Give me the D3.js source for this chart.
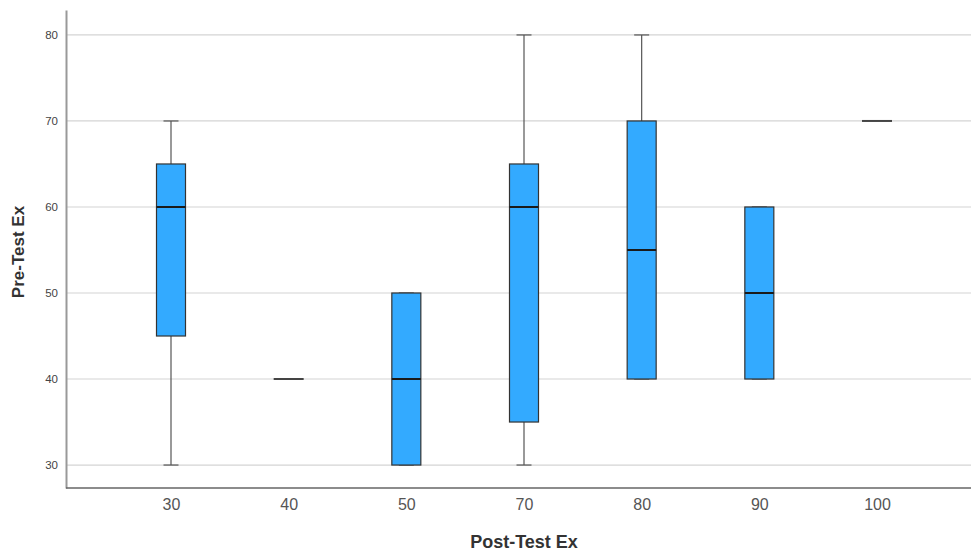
<!DOCTYPE html>
<html>
<head>
<meta charset="utf-8">
<script src="https://cdn.jsdelivr.net/npm/d3@7"></script>
<style>
  body { margin: 0; background: #fff; }
  svg { font-family: "Liberation Sans", Arial, sans-serif; }
</style>
</head>
<body>
<svg id="chart" width="971" height="552"></svg>
<script>
// categories on the x axis (Post-Test Ex)
var categories = ["30", "40", "50", "70", "80", "90", "100"];
// five-number summaries per category (Pre-Test Ex)
var mins    = [30, 40, 30, 30, 40, 40, 70];
var q1s     = [45, 40, 30, 35, 40, 40, 70];
var medians = [60, 40, 40, 60, 55, 50, 70];
var q3s     = [65, 40, 50, 65, 70, 60, 70];
var maxs    = [70, 40, 50, 80, 80, 60, 70];
var yTicks = [30, 40, 50, 60, 70, 80];

var margin = {top: 10, right: 0, bottom: 64, left: 66};
var width = 971 - margin.left - margin.right;
var height = 552 - margin.top - margin.bottom;

var svg = d3.select("#chart")
  .append("g")
  .attr("transform", "translate(" + margin.left + "," + margin.top + ")");

var x = d3.scalePoint()
  .domain(categories)
  .range([105, 811]);

var y = d3.scaleLinear()
  .domain([27.33, 82.9])
  .range([height, 0]);

// grid lines
svg.append("g")
  .selectAll("line")
  .data(yTicks)
  .join("line")
  .attr("x1", 0)
  .attr("x2", width)
  .attr("y1", function(d) { return y(d); })
  .attr("y2", function(d) { return y(d); })
  .attr("stroke", "#d4d4d4")
  .attr("stroke-width", 1.2);

// axes
var yAxis = svg.append("g")
  .call(d3.axisLeft(y).tickValues(yTicks).tickSize(0).tickPadding(8));
yAxis.select(".domain").attr("stroke", "#999").attr("stroke-width", 2);
yAxis.selectAll("text").attr("font-size", 11.5).attr("fill", "#444")
  .attr("font-family", "Liberation Sans, Arial, sans-serif");

var xAxis = svg.append("g")
  .attr("transform", "translate(0," + height + ")")
  .call(d3.axisBottom(x).tickSize(0).tickPadding(11));
xAxis.select(".domain").attr("stroke", "#666").attr("stroke-width", 1.5)
  .attr("d", "M0,0H" + width);
xAxis.selectAll("text").attr("font-size", 16).attr("fill", "#555")
  .attr("font-family", "Liberation Sans, Arial, sans-serif");

var data = categories.map(function(c, i) {
  return {cat: c, min: mins[i], q1: q1s[i], med: medians[i], q3: q3s[i], max: maxs[i]};
});

var boxW = 29, capW = 15, flatW = 30;

var g = svg.append("g").selectAll("g")
  .data(data)
  .join("g")
  .attr("transform", function(d) { return "translate(" + x(d.cat) + ",0)"; });

var spread = g.filter(function(d) { return d.max > d.min; });

// whiskers
spread.append("line")
  .attr("y1", function(d) { return y(d.min); })
  .attr("y2", function(d) { return y(d.max); })
  .attr("stroke", "#555")
  .attr("stroke-width", 1.2);

spread.selectAll(".cap")
  .data(function(d) { return [d.min, d.max]; })
  .join("line")
  .attr("class", "cap")
  .attr("x1", -capW / 2)
  .attr("x2", capW / 2)
  .attr("y1", function(v) { return y(v); })
  .attr("y2", function(v) { return y(v); })
  .attr("stroke", "#555")
  .attr("stroke-width", 1.2);

// boxes
spread.append("rect")
  .attr("x", -boxW / 2)
  .attr("width", boxW)
  .attr("y", function(d) { return y(d.q3); })
  .attr("height", function(d) { return y(d.q1) - y(d.q3); })
  .attr("fill", "#33aaff")
  .attr("stroke", "#333")
  .attr("stroke-width", 1.2);

// medians
spread.append("line")
  .attr("x1", -boxW / 2)
  .attr("x2", boxW / 2)
  .attr("y1", function(d) { return y(d.med); })
  .attr("y2", function(d) { return y(d.med); })
  .attr("stroke", "#1a1a1a")
  .attr("stroke-width", 2);

// single-value groups
g.filter(function(d) { return d.max === d.min; })
  .append("line")
  .attr("x1", -flatW / 2)
  .attr("x2", flatW / 2)
  .attr("y1", function(d) { return y(d.med); })
  .attr("y2", function(d) { return y(d.med); })
  .attr("stroke", "#444")
  .attr("stroke-width", 2);

// axis titles
svg.append("text")
  .attr("text-anchor", "middle")
  .attr("x", x("70"))
  .attr("y", height + 60)
  .attr("font-size", 18)
  .attr("font-weight", "bold")
  .attr("fill", "#333")
  .text("Post-Test Ex");

svg.append("text")
  .attr("text-anchor", "middle")
  .attr("transform", "translate(-42," + (y(55) + 2) + ") rotate(-90)")
  .attr("font-size", 17)
  .attr("font-weight", "bold")
  .attr("fill", "#333")
  .text("Pre-Test Ex");
</script>
</body>
</html>
